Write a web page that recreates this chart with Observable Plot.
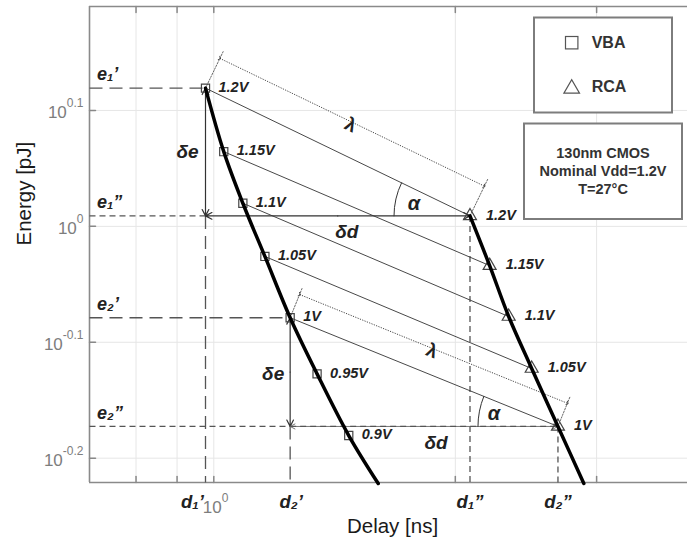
<!DOCTYPE html>
<html><head><meta charset="utf-8">
<script src="https://cdn.jsdelivr.net/npm/d3@7"></script>
<script src="https://cdn.jsdelivr.net/npm/@observablehq/plot@0.6"></script>
<style>
body{margin:0;background:#fff;}
#wrap{position:relative;width:687px;height:548px;font-family:"Liberation Sans",Arial,sans-serif;}
#wrap svg{display:block;}
#legend{position:absolute;left:0;top:0;}
</style></head><body><div id="wrap"></div>
<script>
// ---- data ----
const voltsVBA = ["1.2V","1.15V","1.1V","1.05V","1V","0.95V","0.9V"];
const delayVBA = [0.9765,1.029,1.087,1.158,1.245,1.345,1.473];
const energyVBA = [1.316,1.160,1.047,0.942,0.834,0.746,0.660];
const voltsRCA = ["1.2V","1.15V","1.1V","1.05V","1V"];
const delayRCA = [2.086,2.207,2.331,2.490,2.685];
const energyRCA = [1.021,0.925,0.836,0.754,0.672];
const tailVBA = [1.603, 0.600];   // where the VBA curve leaves the axes
const tailRCA = [2.892, 0.600];   // where the RCA curve leaves the axes
const xDomain = [0.7, 3.894];
const yDomain = [0.6012, 1.5477];
const xTicks = [0.8, 0.9, 1, 2, 3];
const xLabelExps = [0];
const yTickExps = [0.1, 0, -0.1, -0.2];
const refVolts = ["1.2V", "1V"];
const legendItems = ["VBA", "RCA"];
const infoLines = ["130nm CMOS", "Nominal Vdd=1.2V", "T=27°C"];

// ---- tables ----
const vba = voltsVBA.map((v,i)=>({v, d: delayVBA[i], e: energyVBA[i]}));
const rca = voltsRCA.map((v,i)=>({v, d: delayRCA[i], e: energyRCA[i]}));
const pairs = voltsRCA.map(v => ({v, a: vba.find(r=>r.v===v), b: rca.find(r=>r.v===v)}));
const refs = refVolts.map(v => pairs.find(p=>p.v===v));
const [ref1, ref2] = refs;
const vbaCurve = [...vba, {d: tailVBA[0], e: tailVBA[1]}];
const rcaCurve = [...rca, {d: tailRCA[0], e: tailRCA[1]}];
const gm = (a,b) => Math.sqrt(a*b);
const mid = p => ({d: gm(p.a.d, p.b.d), e: gm(p.a.e, p.b.e)});
const yTicks = yTickExps.map(p => 10**p);
const xmin = () => xDomain[0], ymin = () => yDomain[0], ymax = () => yDomain[1];

const lineShape = {draw(ctx, l){ ctx.moveTo(0,0); ctx.lineTo(0,-l); }};
const arcShape = deg => ({draw(ctx, l){ const a = deg*Math.PI/180; ctx.moveTo(-l,0); ctx.arc(0,0,l,Math.PI,Math.PI+a,false); }});

const cv = document.createElement("canvas").getContext("2d");
cv.font = "12px 'Liberation Sans'";
const expW = s => cv.measureText(s).width;

const dark = "#222";
const gray = "#7d7d7d";
const lab = {fontWeight: "bold", fontStyle: "italic", fill: dark};

// double-headed arrow = two arrows from the (log) midpoint outwards
function dblArrow(data, x1, y1, x2, y2, opts) {
  const mx = p => gm(x1(p), x2(p)), my = p => gm(y1(p), y2(p));
  const o = {headLength: 9, headAngle: 55, ...opts};
  return [
    Plot.arrow(data, {x1: mx, y1: my, x2: x1, y2: y1, ...o}),
    Plot.arrow(data, {x1: mx, y1: my, x2: x2, y2: y2, ...o})
  ];
}

const yLabelMarks = yTickExps.flatMap(p => {
  const s = String(p);
  return [
    Plot.text([10**p], {x: xmin, y: d=>d, text: ()=>"10", textAnchor: "end", dx: -6 - expW(s), dy: 2, fontSize: 17, fill: gray}),
    Plot.text([10**p], {x: xmin, y: d=>d, text: ()=>s, textAnchor: "end", dx: -6, dy: -7, fontSize: 12, fill: gray})
  ];
});
const xLabelMarks = xLabelExps.flatMap(p => [
  Plot.text([10**p], {x: d=>d, y: ymin, text: ()=>"10", textAnchor: "end", dx: 8, dy: 25, fontSize: 17, fill: gray}),
  Plot.text([10**p], {x: d=>d, y: ymin, text: ()=>String(p), textAnchor: "start", dx: 8, dy: 16, fontSize: 12, fill: gray})
]);

const chart = Plot.plot({
  width: 687, height: 548,
  marginLeft: 89, marginRight: 0, marginTop: 6, marginBottom: 66,
  style: {fontFamily: "'Liberation Sans', Arial, sans-serif", background: "#fff", overflow: "visible"},
  x: {type: "log", domain: xDomain, axis: null},
  y: {type: "log", domain: yDomain, axis: null},
  marks: [
    // grid
    Plot.ruleX(xTicks, {stroke: "#e6e6e6", strokeWidth: 1}),
    Plot.ruleY(yTicks, {stroke: "#e6e6e6", strokeWidth: 1}),
    // inward ticks
    Plot.vector(xTicks, {x: d=>d, y: ymin, rotate: 0, length: 6, anchor: "start", shape: lineShape, stroke: "#888"}),
    Plot.vector(xTicks, {x: d=>d, y: ymax, rotate: 180, length: 6, anchor: "start", shape: lineShape, stroke: "#888"}),
    Plot.vector(yTicks, {x: xmin, y: d=>d, rotate: 90, length: 6, anchor: "start", shape: lineShape, stroke: "#888"}),
    // frame (left, top, bottom)
    Plot.ruleX([xDomain[0]], {stroke: "#8a8a8a", strokeWidth: 1.6}),
    Plot.ruleY(yDomain, {stroke: "#8a8a8a", strokeWidth: 1.6}),
    // reference dashed lines
    Plot.link(refs, {x1: xmin, y1: p=>p.a.e, x2: p=>p.a.d, y2: p=>p.a.e, stroke: "#555", strokeWidth: 1.3, strokeDasharray: "13,7"}),
    Plot.link(refs, {x1: xmin, y1: p=>p.b.e, x2: p=>p.a.d, y2: p=>p.b.e, stroke: "#555", strokeWidth: 1.3, strokeDasharray: "6,4"}),
    Plot.link(refs, {x1: p=>p.a.d, y1: p=>p.b.e, x2: p=>p.a.d, y2: ymin, stroke: "#555", strokeWidth: 1.3, strokeDasharray: "13,7"}),
    Plot.link(refs, {x1: p=>p.b.d, y1: p=>p.b.e, x2: p=>p.b.d, y2: ymin, stroke: "#555", strokeWidth: 1.3, strokeDasharray: "6,4"}),
    // delta e arrows
    ...dblArrow(refs, p=>p.a.d, p=>p.a.e, p=>p.a.d, p=>p.b.e, {stroke: "#333", strokeWidth: 1.2}),
    // delta d arrows
    ...dblArrow([ref1], p=>p.a.d, p=>p.b.e, p=>p.b.d, p=>p.b.e, {stroke: "#333", strokeWidth: 1.2}),
    ...dblArrow([ref2], p=>p.a.d, p=>p.b.e, p=>p.b.d, p=>p.b.e, {stroke: "#666", strokeWidth: 0.9}),
    Plot.link([ref2], {x1: p=>p.a.d, y1: p=>p.b.e, x2: p=>p.b.d, y2: p=>p.b.e, stroke: "#555", strokeWidth: 1.3, strokeDasharray: "6,4"}),
    // connecting lines between same-voltage points
    Plot.link(pairs, {x1: p=>p.a.d, y1: p=>p.a.e, x2: p=>p.b.d, y2: p=>p.b.e, stroke: "#333", strokeWidth: 0.9}),
    // lambda arrows and extension lines
    Plot.link([ref1], {x1: p=>p.a.d, y1: p=>p.a.e, x2: p=>p.b.d, y2: p=>p.b.e, dx: 14.3, dy: -29.8, stroke: "#333", strokeWidth: 0.9, strokeDasharray: "1.2,1.3", markerStart: "arrow", markerEnd: "arrow"}),
    Plot.link([ref2], {x1: p=>p.a.d, y1: p=>p.a.e, x2: p=>p.b.d, y2: p=>p.b.e, dx: 9.5, dy: -23.2, stroke: "#333", strokeWidth: 0.9, strokeDasharray: "1.2,1.3", markerStart: "arrow", markerEnd: "arrow"}),
    Plot.vector([ref1.a, ref1.b], {x: "d", y: "e", rotate: 25.8, length: 42, anchor: "start", shape: lineShape, stroke: "#555", strokeWidth: 0.8, strokeDasharray: "1.5,1.5"}),
    Plot.vector([ref2.a, ref2.b], {x: "d", y: "e", rotate: 22.1, length: 33, anchor: "start", shape: lineShape, stroke: "#555", strokeWidth: 0.8, strokeDasharray: "1.5,1.5"}),
    // alpha arcs
    Plot.vector([ref1.b], {x: "d", y: "e", rotate: 0, length: 76, anchor: "start", shape: arcShape(25.8), stroke: "#333", strokeWidth: 1}),
    Plot.vector([ref2.b], {x: "d", y: "e", rotate: 0, length: 80, anchor: "start", shape: arcShape(22.1), stroke: "#333", strokeWidth: 1}),
    // markers
    Plot.dot(vba, {x: "d", y: "e", symbol: "square", r: 4.6, stroke: "#444", strokeWidth: 1.2, fill: "none"}),
    Plot.dot(rca, {x: "d", y: "e", symbol: "triangle", r: 4.8, stroke: "#444", strokeWidth: 1.2, fill: "none"}),
    // curves
    Plot.line(vbaCurve, {x: "d", y: "e", curve: "catmull-rom", stroke: "#000", strokeWidth: 3.5}),
    Plot.line(rcaCurve, {x: "d", y: "e", curve: "catmull-rom", stroke: "#000", strokeWidth: 3.5}),
    // voltage labels
    Plot.text(vba, {x: "d", y: "e", text: "v", dx: 13, dy: -1, textAnchor: "start", fontSize: 14.5, ...lab}),
    Plot.text(rca, {x: "d", y: "e", text: "v", dx: 16, dy: -1, textAnchor: "start", fontSize: 14.5, ...lab}),
    // annotation labels
    Plot.text(refs, {x: xmin, y: p=>p.a.e, text: (p,i)=>["e₁’","e₂’"][i], dx: 7.5, dy: -13.5, textAnchor: "start", fontSize: 18, ...lab}),
    Plot.text(refs, {x: xmin, y: p=>p.b.e, text: (p,i)=>["e₁”","e₂”"][i], dx: 7.5, dy: -13.5, textAnchor: "start", fontSize: 18, ...lab}),
    Plot.text([ref1], {x: p=>p.a.d, y: ymin, text: ()=>"d₁’", dx: -13, dy: 20, textAnchor: "middle", fontSize: 18.5, ...lab}),
    Plot.text([ref2], {x: p=>p.a.d, y: ymin, text: ()=>"d₂’", dx: 1, dy: 20, textAnchor: "middle", fontSize: 18.5, ...lab}),
    Plot.text(refs, {x: p=>p.b.d, y: ymin, text: (p,i)=>["d₁”","d₂”"][i], dx: 0, dy: 20, textAnchor: "middle", fontSize: 18.5, ...lab}),
    Plot.text([ref1], {x: p=>p.a.d, y: p=>gm(p.a.e,p.b.e), text: ()=>"δe", dx: -18, dy: 0, fontSize: 19, ...lab}),
    Plot.text([ref2], {x: p=>p.a.d, y: p=>gm(p.a.e,p.b.e), text: ()=>"δe", dx: -17, dy: 2, fontSize: 19, ...lab}),
    Plot.text([ref1], {x: p=>gm(p.a.d,p.b.d), y: p=>p.b.e, text: ()=>"δd", dx: 9, dy: 16, fontSize: 19, ...lab}),
    Plot.text([ref2], {x: p=>gm(p.a.d,p.b.d), y: p=>p.b.e, text: ()=>"δd", dx: 12, dy: 16, fontSize: 19, ...lab}),
    Plot.text([ref1.b], {x: "d", y: "e", text: ()=>"α", dx: -56, dy: -12, fontSize: 20, ...lab}),
    Plot.text([ref2.b], {x: "d", y: "e", text: ()=>"α", dx: -64, dy: -13, fontSize: 20, ...lab}),
    Plot.text([mid(ref1)], {x: "d", y: "e", text: ()=>"λ", rotate: 25.8, dx: 13, dy: -27, fontSize: 19, fontWeight: "bold", fill: dark}),
    Plot.text([mid(ref2)], {x: "d", y: "e", text: ()=>"λ", rotate: 22.1, dx: 8, dy: -21, fontSize: 19, fontWeight: "bold", fill: dark}),
    // tick labels
    ...yLabelMarks,
    ...xLabelMarks,
    // axis titles
    Plot.text(["Delay [ns]"], {frameAnchor: "bottom", text: d=>d, dx: 4, dy: 50, fontSize: 20.5, fill: "#1a1a1a"}),
    Plot.text(["Energy [pJ]"], {frameAnchor: "left", text: d=>d, rotate: -90, dx: -65, dy: 1, fontSize: 20.5, fill: "#1a1a1a"})
  ]
});
const wrap = document.getElementById("wrap");
wrap.appendChild(chart);

// legend / info boxes overlaid inside the axes
const lg = d3.select(wrap).append("svg").attr("id","legend").attr("width",687).attr("height",548)
  .style("font-family","'Liberation Sans', Arial, sans-serif");
lg.append("rect").attr("x",534).attr("y",17.5).attr("width",138).attr("height",95)
  .attr("fill","#fff").attr("stroke","#7d7d7d").attr("stroke-width",2);
legendItems.forEach((name,i) => {
  const cy = 42.7 + i*44;
  if (i === 0) lg.append("rect").attr("x",571.7-6.2).attr("y",cy-6.2).attr("width",12.4).attr("height",12.4)
      .attr("fill","none").attr("stroke","#555").attr("stroke-width",1.2);
  else lg.append("path").attr("d",`M${571.7-7.8},${cy+6.5}L${571.7+7.8},${cy+6.5}L${571.7},${cy-7}Z`)
      .attr("fill","none").attr("stroke","#555").attr("stroke-width",1.2);
  lg.append("text").attr("x",591.7).attr("y",cy).attr("dy","0.35em").attr("font-size",16)
    .attr("font-weight","bold").attr("fill","#333").text(name);
});
lg.append("rect").attr("x",524).attr("y",123.5).attr("width",158).attr("height",95.5)
  .attr("fill","#fff").attr("stroke","#7d7d7d").attr("stroke-width",2);
infoLines.forEach((t,i) => {
  lg.append("text").attr("x",603).attr("y",152.5 + i*18).attr("dy","0.35em").attr("text-anchor","middle")
    .attr("font-size",14.5).attr("font-weight","bold").attr("fill","#333").text(t);
});
</script></body></html>
